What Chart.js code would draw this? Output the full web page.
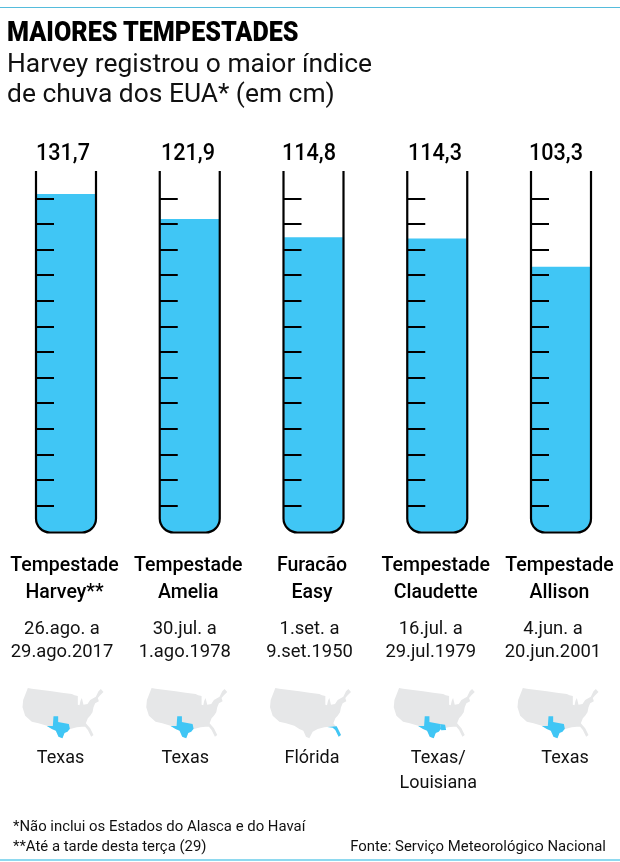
<!DOCTYPE html>
<html lang="pt-BR">
<head>
<meta charset="utf-8">
<title>Maiores tempestades</title>
<script src="https://cdn.jsdelivr.net/npm/chart.js@4/dist/chart.umd.min.js"></script>
<style>
  html, body { margin: 0; padding: 0; background: #fff; }
  #page { position: relative; width: 620px; height: 862px; overflow: hidden; font-family: Roboto, sans-serif; color: #111; }
  #chart { position: absolute; left: 0; top: 0; }
  .t { position: absolute; white-space: nowrap; line-height: 40px; height: 40px; }
  .rule { position: absolute; left: 0; width: 620px; }
  .title { font-size: 27px; font-weight: 900; color: #000; transform: scaleX(.93); transform-origin: left center; }
  .sub { font-size: 26.4px; }
  .val { font-size: 24px; font-weight: 500; color: #000; }
  .date { font-size: 18.4px; }
  .place { font-size: 18px; }
  .note { font-size: 14.9px; }
</style>
</head>
<body>
<div id="page">
  <canvas id="chart" width="620" height="862"></canvas>
  <div class="rule" style="top:7px;height:1px;background:#55bcdc"></div>
  <div class="rule" style="top:859px;height:2px;background:#8ed9ef"></div>
</div>
<script>
var names = [['Tempestade', 'Harvey**'], ['Tempestade', 'Amelia'], ['Furacão', 'Easy'], ['Tempestade', 'Claudette'], ['Tempestade', 'Allison']];
var rainfall = [131.7, 121.9, 114.8, 114.3, 103.3];
var valueLabels = ['131,7', '121,9', '114,8', '114,3', '103,3'];
var datesFrom = ['26.ago. a', '30.jul. a', '1.set. a', '16.jul. a', '4.jun. a'];
var datesTo = ['29.ago.2017', '1.ago.1978', '9.set.1950', '29.jul.1979', '20.jun.2001'];
var places = [['Texas'], ['Texas'], ['Flórida'], ['Texas/', 'Louisiana'], ['Texas']];
var highlighted = [['texas'], ['texas'], ['florida'], ['texas', 'louisiana'], ['texas']];

var BLUE = '#40c6f5';
// the paste-up isn't quite regular, so the captions sit a bit off the tube centres
var valueNudge = [-3, -1.5, -4.5, -2.5, -5];
var dateNudge = [-4, -5, -4, -6.5, -8];
var placeNudge = [-5.5, -4.5, -1.5, 1, 4];

// silhouette of the country, traced at 3x, drawn scaled down
var usaShape = 'M16 0L28 2 58 6 88 10 118 14 148 18 156 22 166 24 166 33 166 50 171 52 174 38 178 30 183 50 195 48 203 36 220 26 228 10 235 3 243 12 233 22 226 30 229 40 218 46 213 58 210 73 203 83 196 91 190 106 203 121 213 141 206 146 196 126 188 116 178 116 163 118 143 123 128 131 118 151 108 146 100 128 88 123 73 113 48 106 28 101 8 83 0 58 2 36Z';
var stateShapes = {
  texas: 'M93 85L107 85 107 102 123 105 139 108 142 122 135 131 126 135 120 151 108 146 100 128 88 123 73 114 91 114Z',
  florida: 'M172 117L200 115 203 121 213 141 206 146 196 126 188 119Z',
  louisiana: 'M139 108L154 110 157 126 142 127 142 122Z'
};

var page = document.getElementById('page');

function addText(text, cls, x, baseline, align) {
  var el = document.createElement('div');
  el.className = 't ' + cls;
  el.textContent = text;
  var size = parseFloat(getComputedStyle(page.appendChild(el)).fontSize);
  el.style.top = (baseline - 20 - 0.36 * size) + 'px';
  if (align === 'left') el.style.left = x + 'px';
  else if (align === 'right') el.style.right = (620 - x) + 'px';
  else { el.style.left = x + 'px'; el.style.transform = cls === 'val' ? 'translateX(-50%) scaleX(.9)' : 'translateX(-50%)'; }
  return el;
}

var tubes = {
  id: 'tubes',
  afterDatasetsDraw: function(chart) {
    var ctx = chart.ctx, x = chart.scales.x, y = chart.scales.y;
    var half = 30, r = 14, bottom = y.bottom + 1;
    ctx.save();
    ctx.strokeStyle = '#000';
    ctx.lineWidth = 2.2;
    rainfall.forEach(function(v, i) {
      var cx = x.getPixelForValue(i);
      ctx.beginPath();
      ctx.moveTo(cx - half, y.top);
      ctx.arcTo(cx - half, bottom, cx + half, bottom, r);
      ctx.arcTo(cx + half, bottom, cx + half, y.top, r);
      ctx.lineTo(cx + half, y.top);
      ctx.stroke();
      y.ticks.forEach(function(t) {
        if (t.value <= 0 || t.value >= 140) return;
        var py = Math.round(y.getPixelForValue(t.value));
        ctx.fillStyle = '#000';
        ctx.fillRect(cx - half, py - 1, 18, 2);
      });
    });
    ctx.restore();
  }
};

var maps = {
  id: 'maps',
  afterDraw: function(chart) {
    var ctx = chart.ctx, x = chart.scales.x;
    names.forEach(function(n, i) {
      ctx.save();
      ctx.translate(x.getPixelForValue(i) - 43.5, 688);
      ctx.scale(1 / 3, 1 / 3);
      ctx.fillStyle = '#e6e7e8';
      ctx.fill(new Path2D(usaShape));
      ctx.fillStyle = BLUE;
      highlighted[i].forEach(function(s) { ctx.fill(new Path2D(stateShapes[s])); });
      ctx.restore();
    });
  }
};

var chart = new Chart(document.getElementById('chart').getContext('2d'), {
  type: 'bar',
  data: {
    labels: names,
    datasets: [{
      data: rainfall,
      backgroundColor: BLUE,
      borderWidth: 0,
      borderSkipped: false,
      borderRadius: { topLeft: 0, topRight: 0, bottomLeft: 13, bottomRight: 13 },
      barThickness: 58,
      clip: false
    }]
  },
  options: {
    responsive: false,
    animation: false,
    layout: { padding: { top: 171, left: 66, right: 59, bottom: 0 } },
    plugins: { legend: { display: false }, tooltip: { enabled: false } },
    scales: {
      x: {
        offset: false,
        border: { display: false },
        grid: { display: false, drawTicks: false, tickLength: 0 },
        ticks: {
          autoSkip: false,
          maxRotation: 0,
          padding: 21,
          labelOffset: -1.5,
          color: '#000',
          font: { family: 'Roboto', size: 19.5, weight: '500', lineHeight: 27 / 19.5 }
        },
        afterFit: function(s) {
          s.height = 862 - 531.5;
          s.paddingLeft = 0;
          s.paddingRight = 0;
        }
      },
      y: {
        min: 0,
        max: 140.8,
        border: { display: false },
        grid: { display: false, drawTicks: false, tickLength: 0 },
        ticks: { display: false, stepSize: 10 },
        afterFit: function(s) { s.width = 0; }
      }
    }
  },
  plugins: [tubes, maps]
});

// html text, lined up on the chart's own columns
var xs = chart.scales.x;
addText('MAIORES TEMPESTADES', 'title', 7, 42, 'left');
addText('Harvey registrou o maior índice', 'sub', 7, 73, 'left');
addText('de chuva dos EUA* (em cm)', 'sub', 7, 103, 'left');
names.forEach(function(n, i) {
  var cx = xs.getPixelForValue(i);
  addText(valueLabels[i], 'val', cx + valueNudge[i], 161);
  addText(datesFrom[i], 'date', cx + dateNudge[i], 635);
  addText(datesTo[i], 'date', cx + dateNudge[i], 658);
  places[i].forEach(function(p, k) {
    addText(p, 'place', cx + placeNudge[i], 763 + k * 25);
  });
});
addText('*Não inclui os Estados do Alasca e do Havaí', 'note', 13, 831, 'left');
addText('**Até a tarde desta terça (29)', 'note', 13, 851, 'left');
addText('Fonte: Serviço Meteorológico Nacional', 'note', 606, 851, 'right');
</script>
</body>
</html>
